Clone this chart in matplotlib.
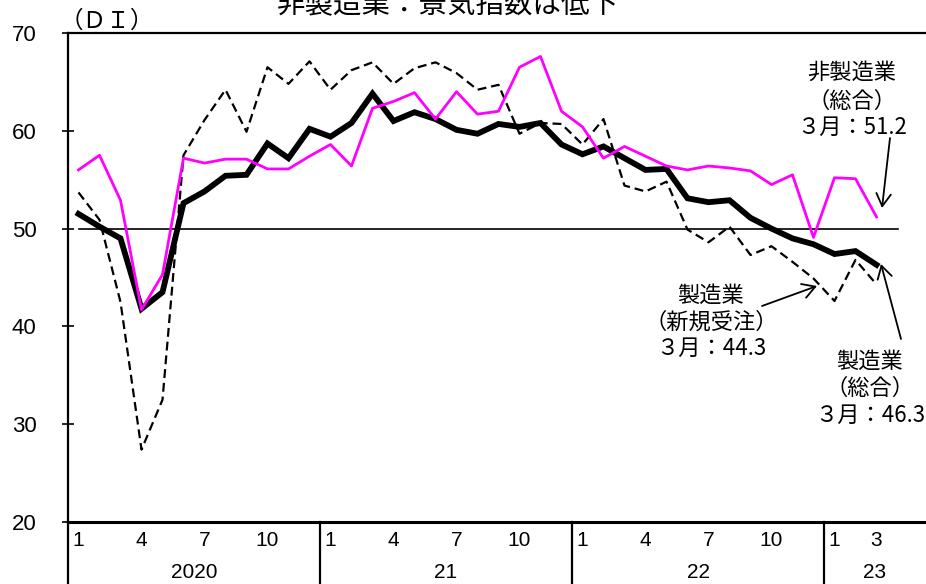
import matplotlib
matplotlib.use("Agg")
import matplotlib.pyplot as plt
import matplotlib.transforms as mtransforms

# ---------------- data ----------------
years = ["2020", "21", "22", "23"]
months_per_year = [12, 12, 12, 3]
month_labels = {0: ["1", "4", "7", "10"], 1: ["1", "4", "7", "10"],
                2: ["1", "4", "7", "10"], 3: ["1", "3"]}

# Manufacturing (total) - thick black
mfg_total = [51.5, 50.2, 49.0, 41.8, 43.5, 52.6, 53.8, 55.4, 55.5, 58.7, 57.2, 60.2,
             59.4, 60.8, 63.8, 61.0, 61.9, 61.2, 60.1, 59.7, 60.7, 60.4, 60.8, 58.6,
             57.6, 58.4, 57.2, 56.0, 56.1, 53.1, 52.7, 52.9, 51.1, 50.0, 49.0, 48.4,
             47.4, 47.7, 46.3]
# Manufacturing (new orders) - dashed black
mfg_orders = [53.7, 50.9, 42.5, 27.4, 32.5, 57.5, 61.1, 64.2, 59.9, 66.5, 64.8, 67.1,
              64.2, 66.2, 67.0, 64.8, 66.4, 67.0, 65.9, 64.2, 64.7, 59.7, 60.8, 60.7,
              58.6, 61.2, 54.4, 53.8, 54.8, 49.9, 48.6, 50.2, 47.3, 48.2, 46.6, 44.9,
              42.6, 46.8, 44.3]
# Non-manufacturing (total) - magenta
non_mfg = [56.0, 57.5, 52.9, 41.7, 45.3, 57.2, 56.7, 57.1, 57.1, 56.1, 56.1, 57.4,
           58.6, 56.4, 62.3, 63.0, 63.9, 61.2, 64.0, 61.7, 62.0, 66.5, 67.6, 62.0,
           60.4, 57.2, 58.4, 57.4, 56.4, 56.0, 56.4, 56.2, 55.9, 54.5, 55.5, 49.1,
           55.2, 55.1, 51.2]
y_ticks = [20, 30, 40, 50, 60, 70]

# ---------------- figure ----------------
W, H = 926, 584
fig = plt.figure(figsize=(W / 100, H / 100), dpi=100)
ax_left, ax_right, ax_top, ax_bot = 68, 926, 33, 522
ax = fig.add_axes([ax_left / W, (H - ax_bot) / H, (ax_right - ax_left) / W, (ax_bot - ax_top) / H])

x = list(range(len(mfg_total)))
month_px = 21.0
xmin = -0.5
xmax = xmin + (ax_right - ax_left) / month_px
ax.set_xlim(xmin, xmax)
ax.set_ylim(20, 70)

ax.plot([0, len(x)], [50, 50], color="black", lw=1.2, zorder=1)
ax.plot(x, mfg_orders, color="black", lw=1.6, linestyle=(0, (4.0, 2.2)), zorder=2)
ax.plot(x, mfg_total, color="black", lw=4.2, solid_joinstyle="miter", zorder=3)
ax.plot(x, non_mfg, color="#FF00FF", lw=2.0, zorder=4)

# spines
ax.spines["right"].set_visible(False)
ax.spines["left"].set_linewidth(1.6)
ax.spines["top"].set_linewidth(1.6)
ax.spines["bottom"].set_linewidth(2.2)

ax.set_yticks(y_ticks)
ax.set_yticklabels([str(v) for v in y_ticks], family="Liberation Sans", fontsize=16)
ax.tick_params(axis="y", direction="inout", length=9, width=1.2, pad=18)
ax.set_xticks([])

# bottom time axis
trans = mtransforms.blended_transform_factory(ax.transData, ax.transAxes)
start = 0
bottom_y = -(H - ax_bot) / (ax_bot - ax_top) - 0.01
month_y = -(541 - ax_bot) / (ax_bot - ax_top)
year_y = -(572 - ax_bot) / (ax_bot - ax_top)
for i, (yr, n) in enumerate(zip(years, months_per_year)):
    ax.plot([start - 0.5, start - 0.5], [0, bottom_y], transform=trans, color="black",
            lw=1.6, clip_on=False)
    for lab in month_labels[i]:
        ax.text(start + int(lab) - 1, month_y, lab, transform=trans, ha="center", va="center",
                family="Liberation Sans", fontsize=15)
    end = start + 12 - 0.5 if n == 12 else xmax
    ax.text((start - 0.5 + end) / 2, year_y, yr, transform=trans, ha="center", va="center",
            family="Liberation Sans", fontsize=15)
    start += n

jp = ["Noto Sans CJK JP", "DejaVu Sans"]


def ftext(px, py, s, size=16, **kw):
    fig.text(px / W, 1 - py / H, s, family=jp, fontsize=size, ha="center", va="center", **kw)


# title (mostly cut off at top, as in the source)
fig.text(448 / W, 1 - 13 / H, "非製造業：景気指数は低下", family=jp, fontsize=20.5,
         ha="center", va="baseline")
# unit label
fig.text(60 / W, 1 - 28 / H, "（ＤＩ）", family=jp, fontsize=17, ha="left", va="baseline")

# annotations
for py, s in [(72.5, "非製造業"), (101, "（総合）"), (127, "３月：51.2")]:
    ftext(852, py, s)
for py, s in [(295, "製造業"), (322, "（新規受注）"), (348.5, "３月：44.3")]:
    ftext(711, py, s)
for py, s in [(361, "製造業"), (388, "（総合）"), (415, "３月：46.3")]:
    ftext(870, py, s)

arrow_kw = dict(arrowstyle="->, head_length=0.6, head_width=0.35", lw=1.3, color="black",
                mutation_scale=15, shrinkA=0, shrinkB=0)


def arrow(tail, tip):
    ax.annotate("", xy=(tip[0], H - tip[1]), xytext=(tail[0], H - tail[1]),
                xycoords="figure pixels", textcoords="figure pixels", arrowprops=arrow_kw,
                annotation_clip=False)


arrow((890, 138), (882, 208))
arrow((762, 306), (817, 286))
arrow((901, 339), (881, 264))

fig.savefig("out.png", dpi=100)
